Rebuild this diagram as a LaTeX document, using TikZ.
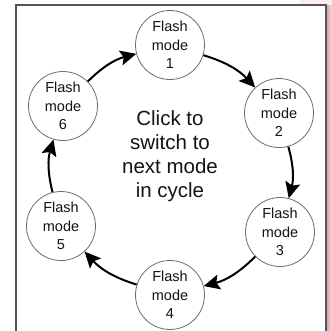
\documentclass[tikz,border=0pt]{standalone}
\usepackage{fontspec}
\setmainfont{Liberation Sans}
\usetikzlibrary{arrows.meta}
\definecolor{framegray}{RGB}{85,85,85}
\definecolor{circgray}{RGB}{110,110,110}
\definecolor{txt}{RGB}{20,20,20}
\definecolor{shadowpink}{RGB}{232,160,165}
\tikzset{
  mode/.style={circle, draw=circgray, line width=0.8bp, minimum size=69bp, inner sep=0pt,
    align=center, text=txt, font=\fontsize{14.5bp}{18.5bp}\selectfont},
  arr/.style={line width=2bp, black, -{Stealth[length=16bp,width=15bp,inset=3bp]}},
  frameline/.style={draw=framegray, line width=1.6bp}
}
\begin{document}
\begin{tikzpicture}[x=1bp,y=-1bp]
\useasboundingbox (0,0) rectangle (332,331);
\fill[white] (0,0) rectangle (332,331);
\shade[left color=shadowpink, right color=shadowpink!35] (327,5) rectangle (332,331);
\fill[shadowpink!18] (300,0) rectangle (332,5);
\draw[frameline] (16,331) -- (16,5) -- (326,5) -- (326,331);
\node[mode] (n1) at (170,45) {Flash\\mode\\1};
\node[mode] (n2) at (279,113) {Flash\\mode\\2};
\node[mode] (n3) at (280,232) {Flash\\mode\\3};
\node[mode] (n4) at (170,295) {Flash\\mode\\4};
\node[mode] (n5) at (61,226) {Flash\\mode\\5};
\node[mode] (n6) at (63,106) {Flash\\mode\\6};
\node[align=center, text=txt, font=\fontsize{20.5bp}{24bp}\selectfont] (c) at (170,156) {Click to\\switch to\\next mode\\in cycle};
\draw[arr] (n1) to[bend left=15] (n2);
\draw[arr] (n2) to[bend left=15] (n3);
\draw[arr] (n3) to[bend left=15] (n4);
\draw[arr] (n4) to[bend left=15] (n5);
\draw[arr] (n5) to[bend left=15] (n6);
\draw[arr] (n6) to[bend left=15] (n1);
\end{tikzpicture}
\end{document}
